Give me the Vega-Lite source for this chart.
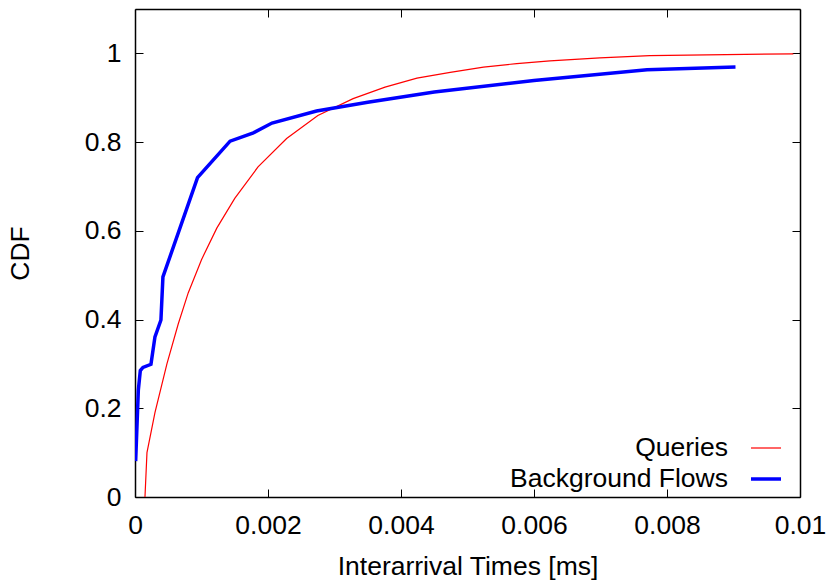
{
  "$schema": "https://vega.github.io/schema/vega-lite/v6.json",
  "width": 665,
  "height": 488,
  "autosize": "none",
  "padding": {"left": 135, "top": 9, "right": 32, "bottom": 84},
  "background": "white",
  "config": {
    "font": "Liberation Sans",
    "view": {"stroke": null},
    "axis": {
      "grid": false,
      "domainColor": "black",
      "domainWidth": 1.5,
      "tickColor": "black",
      "tickWidth": 1,
      "tickSize": -8,
      "labelFontSize": 26.5,
      "labelColor": "black",
      "titleFontSize": 26.5,
      "titleFontWeight": "normal",
      "titleColor": "black"
    },
    "legend": {
      "orient": "none",
      "legendX": 614,
      "legendY": 423,
      "title": null,
      "symbolType": "stroke",
      "symbolSize": 900,
      "labelAlign": "right",
      "labelOffset": -55,
      "labelFontSize": 26.5,
      "labelColor": "black",
      "labelLimit": 400,
      "rowPadding": -2,
      "padding": 0
    }
  },
  "data": {
    "values": [
      {"series": "Queries", "x": 0.00015, "cdf": 0.0},
      {"series": "Queries", "x": 0.00018, "cdf": 0.10},
      {"series": "Queries", "x": 0.00030, "cdf": 0.19},
      {"series": "Queries", "x": 0.00048, "cdf": 0.30},
      {"series": "Queries", "x": 0.00065, "cdf": 0.39},
      {"series": "Queries", "x": 0.00080, "cdf": 0.46},
      {"series": "Queries", "x": 0.00100, "cdf": 0.535},
      {"series": "Queries", "x": 0.00123, "cdf": 0.606},
      {"series": "Queries", "x": 0.00150, "cdf": 0.673},
      {"series": "Queries", "x": 0.00185, "cdf": 0.744},
      {"series": "Queries", "x": 0.00228, "cdf": 0.808},
      {"series": "Queries", "x": 0.00275, "cdf": 0.860},
      {"series": "Queries", "x": 0.00328, "cdf": 0.898},
      {"series": "Queries", "x": 0.00376, "cdf": 0.924},
      {"series": "Queries", "x": 0.00424, "cdf": 0.944},
      {"series": "Queries", "x": 0.00474, "cdf": 0.957},
      {"series": "Queries", "x": 0.00524, "cdf": 0.969},
      {"series": "Queries", "x": 0.00574, "cdf": 0.977},
      {"series": "Queries", "x": 0.00624, "cdf": 0.983},
      {"series": "Queries", "x": 0.00699, "cdf": 0.990},
      {"series": "Queries", "x": 0.00774, "cdf": 0.995},
      {"series": "Queries", "x": 0.00990, "cdf": 0.999},
      {"series": "Background Flows", "x": 0.00001, "cdf": 0.081},
      {"series": "Background Flows", "x": 0.00005, "cdf": 0.241},
      {"series": "Background Flows", "x": 0.00008, "cdf": 0.285},
      {"series": "Background Flows", "x": 0.00012, "cdf": 0.292},
      {"series": "Background Flows", "x": 0.00024, "cdf": 0.299},
      {"series": "Background Flows", "x": 0.00030, "cdf": 0.361},
      {"series": "Background Flows", "x": 0.00039, "cdf": 0.399},
      {"series": "Background Flows", "x": 0.00042, "cdf": 0.496},
      {"series": "Background Flows", "x": 0.00094, "cdf": 0.720},
      {"series": "Background Flows", "x": 0.00143, "cdf": 0.802},
      {"series": "Background Flows", "x": 0.00178, "cdf": 0.821},
      {"series": "Background Flows", "x": 0.00206, "cdf": 0.843},
      {"series": "Background Flows", "x": 0.00273, "cdf": 0.870},
      {"series": "Background Flows", "x": 0.00350, "cdf": 0.890},
      {"series": "Background Flows", "x": 0.00450, "cdf": 0.913},
      {"series": "Background Flows", "x": 0.00600, "cdf": 0.939},
      {"series": "Background Flows", "x": 0.00770, "cdf": 0.963},
      {"series": "Background Flows", "x": 0.00903, "cdf": 0.969}
    ]
  },
  "layer": [
    {
      "mark": {"type": "line", "clip": true},
      "encoding": {
        "x": {
          "field": "x", "type": "quantitative",
          "scale": {"domain": [0, 0.01], "nice": false, "zero": false},
          "axis": {
            "orient": "bottom",
            "title": "Interarrival Times [ms]",
            "values": [0, 0.002, 0.004, 0.006, 0.008, 0.01],
            "format": "~g",
            "labelPadding": 23,
            "labelFlush": false,
            "titlePadding": 15
          }
        },
        "y": {
          "field": "cdf", "type": "quantitative",
          "scale": {"domain": [0, 1.1], "nice": false, "zero": false},
          "axis": {
            "orient": "left",
            "title": "CDF",
            "values": [0, 0.2, 0.4, 0.6, 0.8, 1],
            "format": "~g",
            "labelPadding": 22,
            "titlePadding": 50
          }
        },
        "color": {
          "field": "series", "type": "nominal",
          "scale": {"domain": ["Queries", "Background Flows"], "range": ["#ff0000", "#0000ff"]}
        },
        "strokeWidth": {
          "field": "series", "type": "nominal",
          "scale": {"domain": ["Queries", "Background Flows"], "range": [1.2, 3.5]}
        }
      }
    },
    {
      "mark": {"type": "point", "opacity": 0},
      "encoding": {
        "x": {
          "field": "x", "type": "quantitative",
          "axis": {
            "orient": "top",
            "title": null,
            "labels": false,
            "values": [0, 0.002, 0.004, 0.006, 0.008, 0.01]
          }
        },
        "y": {
          "field": "cdf", "type": "quantitative",
          "axis": {
            "orient": "right",
            "title": null,
            "labels": false,
            "values": [0, 0.2, 0.4, 0.6, 0.8, 1]
          }
        }
      }
    }
  ],
  "resolve": {"axis": {"x": "independent", "y": "independent"}}
}
